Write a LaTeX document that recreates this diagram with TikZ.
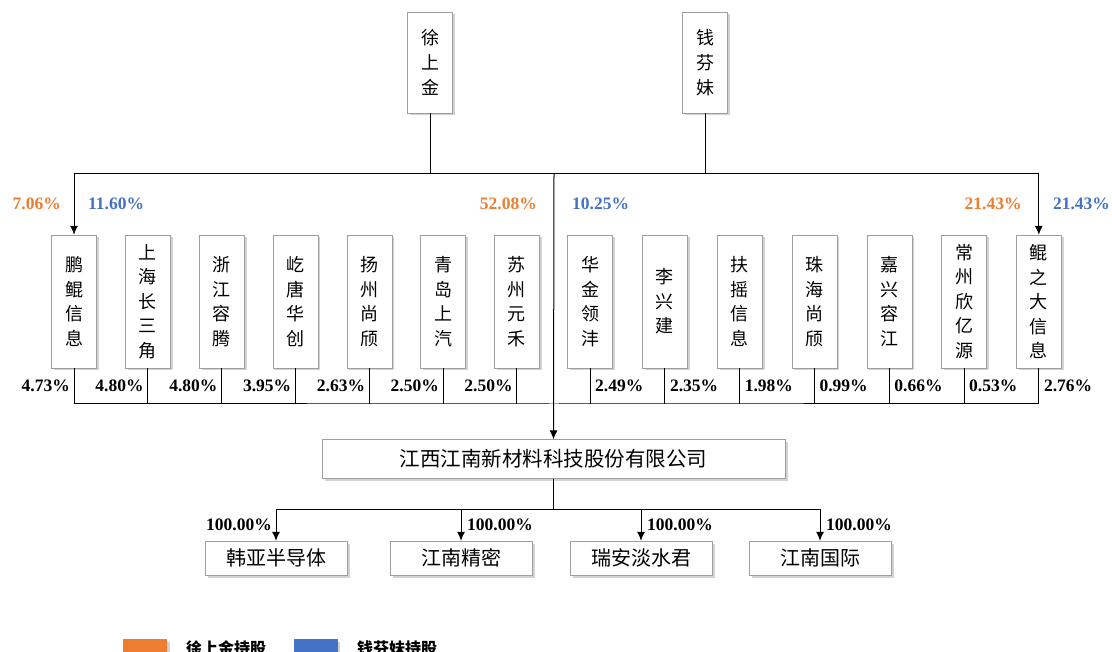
\documentclass[tikz,border=0pt]{standalone}
\usepackage{fontspec}
\setmainfont{Liberation Serif}
\newfontfamily\cjk{Noto Sans CJK SC}
\usepackage{tikz}
\usetikzlibrary{calc}
\usetikzlibrary{shapes,arrows,arrows.meta,shadows}
\definecolor{xsjorange}{HTML}{ED7D31}
\definecolor{qfmblue}{HTML}{4472C4}
\tikzstyle{boxshadow} = [drop shadow={shadow xshift=2.5pt, shadow yshift=-2.5pt, fill=gray!70, opacity=0.5}]
\tikzstyle{person} = [rectangle, draw=gray!75, fill=white, boxshadow, minimum width=45pt, minimum height=101pt, inner sep=2pt, align=center, font=\cjk\fontsize{18}{25}\selectfont]
\tikzstyle{holder} = [rectangle, draw=gray!75, fill=white, boxshadow, minimum width=45pt, minimum height=133pt, inner sep=2pt, align=center, font=\cjk\fontsize{18}{24.5}\selectfont]
\tikzstyle{cobox} = [rectangle, draw=gray!75, fill=white, boxshadow, minimum width=463pt, minimum height=39pt, font=\cjk\fontsize{20.5}{24}\selectfont]
\tikzstyle{subbox} = [rectangle, draw=gray!75, fill=white, boxshadow, minimum width=142pt, minimum height=34pt, font=\cjk\fontsize{20}{24}\selectfont]
\tikzstyle{pct} = [inner sep=0pt, font=\bfseries\fontsize{17.5}{19}\selectfont]
\tikzstyle{opct} = [pct, text=xsjorange]
\tikzstyle{bpct} = [pct, text=qfmblue]
\tikzstyle{key} = [rectangle, boxshadow, minimum width=44pt, minimum height=22pt, inner sep=0pt]
\tikzstyle{keytext} = [anchor=west, inner sep=0pt, font=\cjk\bfseries\fontsize{16}{18}\selectfont]
\tikzstyle{line} = [draw, line width=1pt, -{Latex[length=9pt, width=8pt]}]
\tikzstyle{link} = [draw, line width=1pt]

\begin{document}
\begin{tikzpicture}[x=1pt, y=1pt, node distance=73.8pt]
    \useasboundingbox (0,0) rectangle (1112,-652);
    \clip (0,0) rectangle (1112,-652);
    \node [person] (xsj) at (430,-62.5) {徐\\上\\金};
    \node [person, right of=xsj, node distance=275pt] (qfm) {钱\\芬\\妹};
    \node [holder] (p1) at (74,-301.5) {鹏\\鲲\\信\\息};
    \node [holder, right of=p1] (p2) {上\\海\\长\\三\\角};
    \node [holder, right of=p2] (p3) {浙\\江\\容\\腾};
    \node [holder, right of=p3] (p4) {屹\\唐\\华\\创};
    \node [holder, right of=p4] (p5) {扬\\州\\尚\\颀};
    \node [holder, right of=p5] (p6) {青\\岛\\上\\汽};
    \node [holder, right of=p6] (p7) {苏\\州\\元\\禾};
    \node [holder, right of=p7, node distance=73.2pt] (p8) {华\\金\\领\\沣};
    \node [holder, right of=p8, node distance=74.8pt] (p9) {李\\兴\\建};
    \node [holder, right of=p9, node distance=74.8pt] (p10) {扶\\摇\\信\\息};
    \node [holder, right of=p10, node distance=74.8pt] (p11) {珠\\海\\尚\\颀};
    \node [holder, right of=p11, node distance=74.8pt] (p12) {嘉\\兴\\容\\江};
    \node [holder, right of=p12, node distance=74.8pt] (p13) {常\\州\\欣\\亿\\源};
    \node [holder, right of=p13, node distance=74.8pt] (p14) {鲲\\之\\大\\信\\息};
    \node [cobox] (co) at (553.5,-459) {江西江南新材料科技股份有限公司};
    \node [subbox] (s1) at (276,-558) {韩亚半导体};
    \node [subbox, right of=s1, node distance=185pt] (s2) {江南精密};
    \node [subbox, right of=s2, node distance=180pt] (s3) {瑞安淡水君};
    \node [subbox, right of=s3, node distance=179pt] (s4) {江南国际};
    \coordinate (top) at (554,-174);
    \coordinate (bot) at (554,-404);
    \coordinate (sb) at (553.5,-509);
    \coordinate (crow) at (0,-204);
    \coordinate (prow) at (0,-386);
    \coordinate (srow) at (0,-525);
    \path [link] (xsj.south) -- (xsj.south |- top);
    \path [link] (qfm.south) -- (qfm.south |- top);
    \path [link] (xsj.south |- top) -- (qfm.south |- top);
    \path [line] (xsj.south |- top) -| (p1.north);
    \path [line] (qfm.south |- top) -| (p14.north);
    \path [line] (top) -- (co.north);
    \path [link] (p1.south) |- (bot) -| (p14.south);
    \foreach \i in {2,...,13}
        \path [link] (p\i.south) -- (p\i.south |- bot);
    \path [link] (co.south) -- (sb);
    \foreach \i in {1,...,4}
        \path [line] (sb) -| (s\i.north);
    \node [opct, anchor=east, xshift=-13pt] (o1) at (p1.north |- crow) {7.06\%};
    \node [bpct, anchor=west, xshift=14pt] (b1) at (p1.north |- crow) {11.60\%};
    \node [opct, anchor=east, xshift=-17pt] (o2) at (top |- crow) {52.08\%};
    \node [bpct, anchor=west, xshift=18pt] (b2) at (top |- crow) {10.25\%};
    \node [opct, anchor=east, xshift=-17pt] (o3) at (p14.north |- crow) {21.43\%};
    \node [bpct, anchor=west, xshift=14pt] (b3) at (p14.north |- crow) {21.43\%};
    \node [pct, anchor=east, xshift=-4pt] (v1) at (p1.south |- prow) {4.73\%};
    \node [pct, anchor=east, xshift=-4pt] (v2) at (p2.south |- prow) {4.80\%};
    \node [pct, anchor=east, xshift=-4pt] (v3) at (p3.south |- prow) {4.80\%};
    \node [pct, anchor=east, xshift=-4pt] (v4) at (p4.south |- prow) {3.95\%};
    \node [pct, anchor=east, xshift=-4pt] (v5) at (p5.south |- prow) {2.63\%};
    \node [pct, anchor=east, xshift=-4pt] (v6) at (p6.south |- prow) {2.50\%};
    \node [pct, anchor=east, xshift=-4pt] (v7) at (p7.south |- prow) {2.50\%};
    \node [pct, anchor=west, xshift=5pt] (v8) at (p8.south |- prow) {2.49\%};
    \node [pct, anchor=west, xshift=5pt] (v9) at (p9.south |- prow) {2.35\%};
    \node [pct, anchor=west, xshift=5pt] (v10) at (p10.south |- prow) {1.98\%};
    \node [pct, anchor=west, xshift=5pt] (v11) at (p11.south |- prow) {0.99\%};
    \node [pct, anchor=west, xshift=5pt] (v12) at (p12.south |- prow) {0.66\%};
    \node [pct, anchor=west, xshift=5pt] (v13) at (p13.south |- prow) {0.53\%};
    \node [pct, anchor=west, xshift=5pt] (v14) at (p14.south |- prow) {2.76\%};
    \node [pct, anchor=east, xshift=-4pt] (w1) at (s1.north |- srow) {100.00\%};
    \node [pct, anchor=west, xshift=6pt] (w2) at (s2.north |- srow) {100.00\%};
    \node [pct, anchor=west, xshift=6pt] (w3) at (s3.north |- srow) {100.00\%};
    \node [pct, anchor=west, xshift=6pt] (w4) at (s4.north |- srow) {100.00\%};
    \node [key, fill=xsjorange] (k1) at (145,-650) {};
    \node [keytext] (t1) at (186,-648) {徐上金持股};
    \node [key, fill=qfmblue] (k2) at (315.5,-650) {};
    \node [keytext] (t2) at (357,-648) {钱芬妹持股};
\end{tikzpicture}
\end{document}
